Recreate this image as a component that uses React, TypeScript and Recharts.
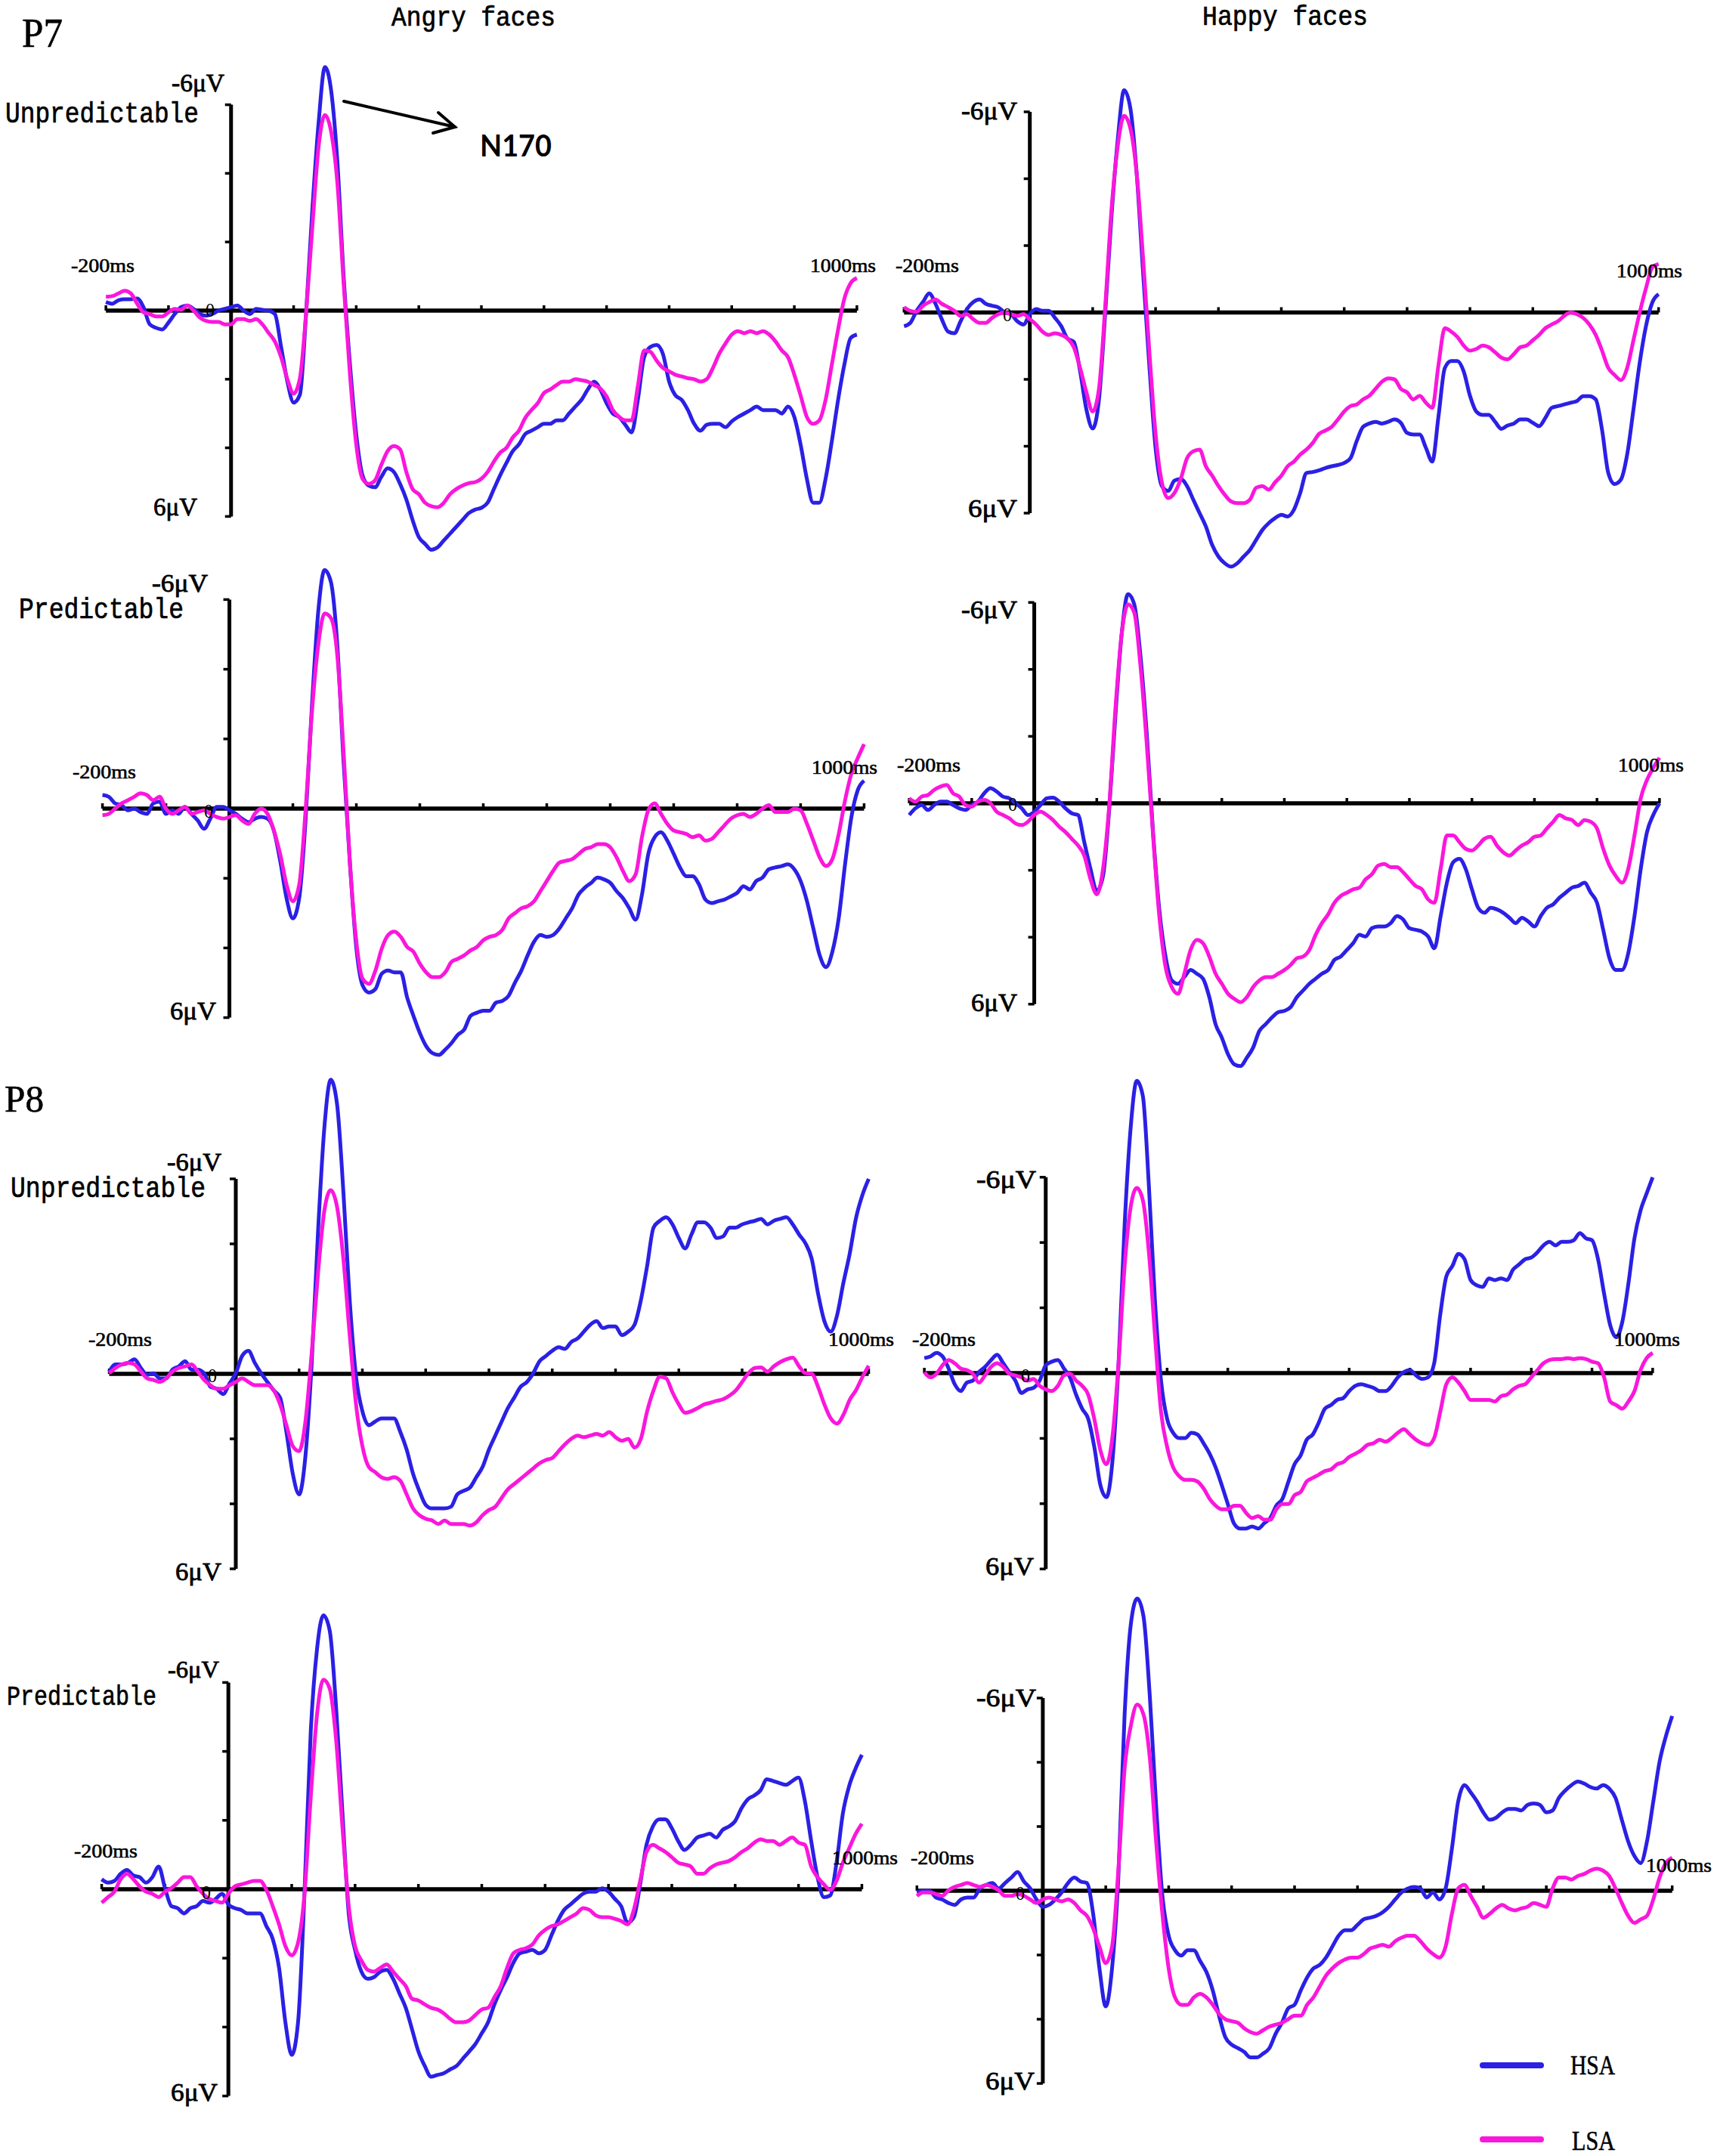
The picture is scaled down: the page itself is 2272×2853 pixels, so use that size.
import React from 'react';
import { LineChart, Line, XAxis, YAxis, ReferenceLine } from 'recharts';

// ---------- data ----------
const timesMs: number[] = Array.from({ length: 121 }, (_, i) => -200 + i * 10);
const xTickMs = [-200, -100, 100, 200, 300, 400, 500, 600, 700, 800, 900, 1000];
const yTickUv = [-6, -4, -2, 2, 4, 6];
const seriesNames = ['HSA', 'LSA'];
const columnTitles = ['Angry faces', 'Happy faces'];
const rowTitles = ['Unpredictable', 'Predictable', 'Unpredictable', 'Predictable'];
const electrodes = ['P7', 'P8'];

// P7 angry unpredictable
const p7AngryUnpHSA = [
  -0.25, -0.2, -0.3, -0.33, -0.33, -0.35, -0.1, 0.4, 0.5, 0.55,
  0.35, 0.1, -0.1, -0.15, -0.05, 0.1, 0.15, 0.1, 0, -0.05,
  -0.1, -0.15, 0, 0.1, -0.05, -0.02, 0, 0.1, 1.06, 2.07,
  2.68, 2.45, 0.05, -2.98, -5.5, -7.1, -6.4, -4.3, -0.96, 1.57,
  3.6, 4.8, 5.1, 5.15, 4.85, 4.6, 4.7, 5.05, 5.5, 6.1,
  6.6, 6.8, 6.97, 6.9, 6.7, 6.5, 6.3, 6.1, 5.9, 5.8,
  5.75, 5.6, 5.2, 4.8, 4.44, 4.1, 3.9, 3.6, 3.5, 3.4,
  3.3, 3.3, 3.2, 3.2, 3.0, 2.8, 2.6, 2.3, 2.07, 2.3,
  2.7, 3.0, 3.1, 3.33, 3.55, 2.6, 1.36, 1.06, 1.0, 1.26,
  2.07, 2.47, 2.6, 2.9, 3.3, 3.5, 3.33, 3.3, 3.3, 3.4,
  3.23, 3.1, 3.0, 2.9, 2.8, 2.9, 2.9, 2.9, 3.0, 2.8,
  3.1, 3.9, 4.9, 5.6, 5.6, 4.9, 3.8, 2.6, 1.57, 0.8,
  0.7,
];
const p7AngryUnpLSA = [
  -0.4, -0.42, -0.5, -0.58, -0.5, -0.2, 0.05, 0.1, 0.17, 0.17,
  0.05, -0.05, -0.02, -0.15, 0, 0.2, 0.3, 0.33, 0.33, 0.4,
  0.4, 0.25, 0.25, 0.3, 0.25, 0.4, 0.65, 0.9, 1.36, 2.0,
  2.42, 1.97, 0.05, -2.47, -4.8, -5.7, -5.2, -3.7, -0.76, 1.87,
  3.9, 4.9, 5.05, 4.95, 4.5, 4.1, 3.95, 4.04, 4.7, 5.2,
  5.35, 5.6, 5.7, 5.73, 5.6, 5.35, 5.2, 5.1, 5.03, 5.0,
  4.9, 4.7, 4.4, 4.14, 4.0, 3.7, 3.5, 3.13, 2.9, 2.7,
  2.4, 2.3, 2.17, 2.07, 2.07, 2.0, 2.03, 2.07, 2.17, 2.27,
  2.5, 2.9, 3.1, 3.2, 3.2, 2.2, 1.16, 1.2, 1.46, 1.67,
  1.77, 1.87, 1.92, 1.97, 2.0, 2.07, 2.0, 1.67, 1.26, 0.96,
  0.7, 0.6, 0.66, 0.6, 0.66, 0.6, 0.7, 0.9, 1.16, 1.36,
  1.87, 2.47, 3.1, 3.3, 3.2, 2.6, 1.57, 0.55, -0.35, -0.8,
  -0.95,
];
// P7 happy unpredictable
const p7HappyUnpHSA = [
  0.41, 0.31, -0.05, -0.31, -0.57, -0.26, 0.2, 0.57, 0.62, 0.26,
  -0.1, -0.31, -0.39, -0.26, -0.2, -0.15, 0, 0.05, 0.26, 0.36,
  0.05, -0.1, -0.05, -0.05, 0.16, 0.41, 0.78, 0.88, 1.76, 2.9,
  3.47, 2.6, 0, -2.9, -5.2, -6.65, -6.1, -4.15, -1.24, 1.56,
  4.05, 5.19, 5.34, 5.03, 4.98, 5.19, 5.6, 6.0, 6.4, 6.95,
  7.3, 7.5, 7.6, 7.5, 7.3, 7.1, 6.8, 6.5, 6.3, 6.15,
  6.05, 6.1, 5.9, 5.4, 4.8, 4.77, 4.72, 4.65, 4.6, 4.56,
  4.5, 4.36, 3.84, 3.42, 3.32, 3.27, 3.32, 3.27, 3.2, 3.3,
  3.6, 3.65, 3.65, 4.05, 4.46, 3.1, 1.66, 1.45, 1.45, 1.76,
  2.49, 2.96, 3.06, 3.06, 3.27, 3.48, 3.38, 3.32, 3.2, 3.2,
  3.3, 3.4, 3.15, 2.85, 2.8, 2.75, 2.7, 2.65, 2.5, 2.5,
  2.6, 3.5, 4.8, 5.13, 5.0, 4.25, 2.9, 1.5, 0.4, -0.3,
  -0.55,
];
const p7HappyUnpLSA = [
  -0.16, -0.05, -0.02, -0.2, -0.31, -0.39, -0.26, -0.16, -0.05, 0.1,
  0.05, 0.2, 0.31, 0.31, 0.16, 0.05, 0, 0.05, 0.1, 0.05,
  0.2, 0.36, 0.57, 0.67, 0.62, 0.67, 0.78, 1.04, 1.66, 2.39,
  2.96, 2.28, -0.2, -3.1, -5.0, -5.88, -5.5, -4.15, -1.66, 1.14,
  3.63, 5.08, 5.55, 5.4, 4.98, 4.36, 4.15, 4.1, 4.6, 4.88,
  5.19, 5.45, 5.65, 5.7, 5.7, 5.6, 5.24, 5.19, 5.3, 5.08,
  4.88, 4.6, 4.46, 4.25, 4.1, 3.9, 3.63, 3.53, 3.42, 3.2,
  2.96, 2.8, 2.75, 2.6, 2.49, 2.28, 2.07, 1.97, 2.0, 2.28,
  2.39, 2.6, 2.49, 2.7, 2.85, 1.56, 0.47, 0.57, 0.73, 0.99,
  1.14, 1.09, 0.99, 1.04, 1.19, 1.35, 1.4, 1.24, 1.04, 0.99,
  0.83, 0.67, 0.47, 0.36, 0.26, 0.1, 0, 0.05, 0.16, 0.36,
  0.67, 1.14, 1.66, 1.87, 2.02, 1.66, 0.83, 0, -0.73, -1.35,
  -1.45,
];
// P7 angry predictable
const p7AngryPreHSA = [
  -0.39, -0.34, -0.15, -0.1, 0.05, 0, 0.1, 0.15, -0.15, -0.2,
  0.15, 0.05, 0.15, -0.05, 0.15, 0.34, 0.58, 0.29, -0.05, -0.05,
  0.05, 0.15, 0.29, 0.39, 0.29, 0.24, 0.29, 0.63, 1.5, 2.57,
  3.15, 2.57, 0.34, -2.95, -5.66, -6.85, -6.5, -4.7, -1.3, 1.6,
  4.0, 5.08, 5.28, 5.18, 4.74, 4.65, 4.7, 4.7, 5.42, 5.95,
  6.44, 6.82, 7.02, 7.07, 6.92, 6.73, 6.49, 6.34, 5.95, 5.86,
  5.8, 5.8, 5.57, 5.52, 5.37, 4.99, 4.65, 4.21, 3.82, 3.63,
  3.68, 3.63, 3.44, 3.15, 2.86, 2.47, 2.27, 2.13, 1.98, 2.03,
  2.13, 2.37, 2.57, 2.86, 3.19, 2.47, 1.3, 0.82, 0.68, 0.92,
  1.3, 1.69, 1.94, 1.94, 2.18, 2.61, 2.71, 2.66, 2.61, 2.52,
  2.42, 2.23, 2.32, 2.08, 1.98, 1.74, 1.69, 1.65, 1.6, 1.74,
  2.08, 2.66, 3.44, 4.21, 4.55, 4.11, 3.15, 1.6, 0.24, -0.53,
  -0.8,
];
const p7AngryPreLSA = [
  0.19, 0.15, 0, -0.15, -0.24, -0.34, -0.44, -0.39, -0.24, -0.34,
  0, 0.15, 0.05, -0.05, 0.15, 0.1, 0.05, 0.15, 0.24, 0.29,
  0.24, 0.19, 0.34, 0.44, 0.15, 0, 0.15, 0.63, 1.31, 2.18,
  2.66, 2.18, 0.05, -2.76, -4.7, -5.6, -5.47, -4.4, -1.6, 1.6,
  3.82, 4.89, 5.03, 4.65, 4.02, 3.63, 3.53, 3.68, 3.97, 4.11,
  4.45, 4.7, 4.84, 4.84, 4.7, 4.4, 4.31, 4.21, 4.07, 3.97,
  3.78, 3.68, 3.63, 3.48, 3.15, 3.0, 2.86, 2.8, 2.66, 2.37,
  2.08, 1.79, 1.55, 1.5, 1.45, 1.31, 1.16, 1.11, 1.02, 1.02,
  1.11, 1.4, 1.79, 2.08, 1.89, 0.82, 0.05, -0.15, 0.15, 0.44,
  0.63, 0.68, 0.73, 0.82, 0.77, 0.92, 0.87, 0.68, 0.48, 0.29,
  0.19, 0.15, 0.24, 0.15, 0, -0.1, 0.1, 0.1, 0.1, 0,
  0.05, 0.44, 0.92, 1.4, 1.65, 1.45, 0.73, -0.24, -1.0, -1.45,
  -1.85,
];
// P7 happy predictable
const p7HappyPreHSA = [
  0.35, 0.15, 0.05, 0.2, 0.05, -0.05, -0.05, 0.05, 0.15, 0.2,
  0.05, -0.05, -0.3, -0.45, -0.35, -0.2, -0.15, 0, 0.15, 0.35,
  0.25, 0.05, -0.15, -0.17, -0.05, 0.15, 0.3, 0.35, 1.16, 1.96,
  2.62, 2.17, 0.15, -2.67, -5.09, -6.25, -5.94, -4.38, -2.06, 0.86,
  3.17, 4.58, 5.29, 5.39, 5.19, 4.98, 5.09, 5.24, 5.79, 6.6,
  7.0, 7.5, 7.8, 7.85, 7.6, 7.3, 6.8, 6.6, 6.4, 6.24,
  6.2, 6.09, 5.79, 5.59, 5.39, 5.24, 5.09, 4.98, 4.68, 4.58,
  4.38, 4.18, 3.93, 3.98, 3.73, 3.68, 3.68, 3.58, 3.37, 3.47,
  3.73, 3.78, 3.83, 3.98, 4.33, 3.37, 2.37, 1.76, 1.66, 1.96,
  2.57, 3.12, 3.27, 3.12, 3.17, 3.27, 3.42, 3.58, 3.42, 3.53,
  3.68, 3.37, 3.12, 3.02, 2.82, 2.67, 2.52, 2.47, 2.37, 2.67,
  2.97, 3.78, 4.63, 4.98, 4.98, 4.48, 3.37, 1.96, 0.86, 0.35,
  0,
];
const p7HappyPreLSA = [
  -0.15, -0.05, -0.2, -0.25, -0.4, -0.5, -0.55, -0.3, -0.2, 0.05,
  0.1, -0.05, -0.1, 0, 0.25, 0.35, 0.45, 0.6, 0.65, 0.55,
  0.35, 0.25, 0.35, 0.5, 0.7, 0.86, 1.06, 1.26, 1.56, 2.27,
  2.72, 1.96, 0.05, -2.87, -5.09, -5.94, -5.69, -4.08, -1.76, 0.96,
  3.37, 4.89, 5.49, 5.69, 5.09, 4.38, 4.08, 4.18, 4.58, 5.09,
  5.39, 5.69, 5.84, 5.94, 5.79, 5.49, 5.29, 5.19, 5.19, 5.09,
  4.98, 4.83, 4.63, 4.58, 4.38, 3.93, 3.58, 3.32, 2.97, 2.77,
  2.67, 2.57, 2.52, 2.27, 2.12, 1.86, 1.81, 1.91, 1.91, 2.06,
  2.27, 2.47, 2.57, 2.87, 2.97, 1.96, 0.96, 0.96, 1.16, 1.36,
  1.41, 1.26, 1.06, 1.0, 1.26, 1.46, 1.56, 1.41, 1.26, 1.16,
  1.0, 0.96, 0.75, 0.55, 0.35, 0.45, 0.5, 0.65, 0.5, 0.55,
  0.75, 1.36, 1.86, 2.17, 2.37, 1.96, 0.96, -0.15, -0.7, -1.06,
  -1.36,
];
// P8 angry unpredictable
const p8AngryUnpHSA = [
  -0.07, -0.29, -0.29, -0.34, -0.45, -0.18, 0.03, -0.02, 0.14, 0.14,
  -0.13, -0.23, -0.39, -0.13, -0.13, -0.02, 0.4, 0.46, 0.62, 0.3,
  -0.02, -0.55, -0.71, -0.34, -0.02, 0.25, 0.51, 0.73, 1.79, 3.07,
  3.71, 2.54, -0.34, -4.39, -7.59, -9.05, -8.3, -5.6, -2.26, 0.08,
  1.15, 1.58, 1.47, 1.37, 1.37, 1.37, 1.79, 2.33, 3.07, 3.6,
  4.03, 4.14, 4.14, 4.14, 4.09, 3.71, 3.6, 3.5, 3.18, 2.86,
  2.33, 1.9, 1.47, 1.05, 0.73, 0.4, 0.25, -0.02, -0.39, -0.55,
  -0.71, -0.82, -0.77, -0.98, -1.09, -1.3, -1.51, -1.62, -1.41, -1.46,
  -1.46, -1.19, -1.3, -1.51, -2.26, -3.33, -4.5, -4.71, -4.82, -4.6,
  -4.18, -3.86, -4.29, -4.66, -4.66, -4.5, -4.18, -4.23, -4.5, -4.5,
  -4.6, -4.66, -4.71, -4.77, -4.6, -4.71, -4.77, -4.82, -4.6, -4.29,
  -4.02, -3.54, -2.47, -1.62, -1.3, -1.8, -2.8, -3.7, -4.8, -5.5,
  -6.0,
];
const p8AngryUnpLSA = [
  -0.02, -0.18, -0.29, -0.34, -0.29, -0.07, 0.14, 0.19, 0.25, 0.14,
  -0.07, -0.18, -0.23, -0.29, -0.07, 0.19, 0.35, 0.46, 0.46, 0.35,
  0.25, 0.14, 0.25, 0.35, 0.35, 0.35, 0.51, 0.94, 1.58, 2.22,
  2.38, 1.47, -0.66, -3.11, -5.03, -5.65, -5.14, -3.54, -1.19, 0.94,
  2.22, 2.86, 3.02, 3.18, 3.23, 3.18, 3.29, 3.71, 4.14, 4.35,
  4.46, 4.51, 4.62, 4.51, 4.62, 4.62, 4.62, 4.67, 4.57, 4.35,
  4.19, 4.09, 3.82, 3.55, 3.39, 3.23, 3.07, 2.91, 2.75, 2.65,
  2.59, 2.38, 2.17, 2.0, 1.9, 1.95, 1.9, 1.85, 1.9, 1.79,
  1.95, 2.06, 2.0, 2.27, 2.0, 1.15, 0.51, 0.09, 0.14, 0.57,
  0.94, 1.2, 1.15, 1.05, 0.94, 0.89, 0.83, 0.78, 0.67, 0.51,
  0.25, -0.02, -0.18, -0.2, -0.07, -0.23, -0.36, -0.45, -0.5, -0.23,
  -0.02, 0, 0.4, 0.94, 1.37, 1.53, 1.26, 0.8, 0.5, 0.1,
  -0.25,
];
// P8 happy unpredictable
const p8HappyUnpHSA = [
  -0.46, -0.51, -0.62, -0.51, -0.14, 0.34, 0.55, 0.29, 0.23, -0.03,
  -0.19, -0.4, -0.56, -0.3, -0.03, 0.23, 0.61, 0.5, 0.45, 0.23,
  -0.24, -0.35, -0.4, -0.14, 0.13, 0.66, 1.09, 1.4, 2.26, 3.43,
  3.8, 2.68, -0.3, -4.55, -7.53, -8.95, -8.49, -5.72, -2.21, 0.23,
  1.4, 1.83, 1.99, 1.99, 1.83, 1.88, 2.15, 2.47, 2.89, 3.43,
  4.01, 4.6, 4.76, 4.76, 4.7, 4.76, 4.6, 4.44, 4.06, 3.85,
  3.32, 2.79, 2.52, 2.04, 1.88, 1.51, 1.09, 0.98, 0.82, 0.77,
  0.55, 0.39, 0.34, 0.39, 0.45, 0.55, 0.55, 0.39, 0.13, -0.03,
  -0.09, 0.07, 0.18, 0.13, -0.3, -1.79, -2.96, -3.28, -3.65, -3.49,
  -2.85, -2.69, -2.64, -2.9, -2.85, -2.9, -2.85, -3.17, -3.33, -3.49,
  -3.54, -3.7, -3.91, -4.02, -3.91, -4.02, -4.02, -4.07, -4.29, -4.13,
  -4.07, -3.49, -2.43, -1.47, -1.1, -1.57, -2.74, -4.13, -4.98, -5.5,
  -6.0,
];
const p8HappyUnpLSA = [
  -0.03, 0.13, 0.02, -0.24, -0.4, -0.3, -0.14, -0.09, 0.02, 0.29,
  0.07, -0.19, -0.3, -0.19, 0.02, 0.07, 0.13, 0.23, 0.18, 0.39,
  0.5, 0.55, 0.39, 0.07, 0.02, 0.23, 0.39, 0.66, 1.4, 2.36,
  2.79, 1.94, -0.3, -3.28, -5.09, -5.67, -5.3, -3.7, -1.15, 1.19,
  2.26, 2.89, 3.16, 3.27, 3.27, 3.32, 3.53, 3.85, 4.06, 4.17,
  4.17, 4.06, 4.06, 4.28, 4.44, 4.38, 4.49, 4.49, 4.17, 4.01,
  4.01, 3.74, 3.64, 3.32, 3.21, 3.11, 3.0, 2.95, 2.79, 2.73,
  2.57, 2.47, 2.36, 2.2, 2.15, 2.04, 2.1, 1.99, 1.83, 1.72,
  1.88, 2.04, 2.15, 2.2, 1.99, 1.19, 0.34, 0.13, 0.29, 0.55,
  0.82, 0.82, 0.82, 0.82, 0.87, 0.71, 0.66, 0.5, 0.39, 0.34,
  0.13, -0.09, -0.3, -0.4, -0.43, -0.43, -0.46, -0.43, -0.46, -0.43,
  -0.35, -0.3, 0.13, 0.87, 0.98, 1.09, 0.87, 0.55, -0.09, -0.46,
  -0.62,
];
// P8 angry predictable
const p8AngryPreHSA = [
  -0.29, -0.19, -0.24, -0.45, -0.56, -0.4, -0.35, -0.19, -0.35, -0.66,
  -0.03, 0.49, 0.55, 0.7, 0.55, 0.49, 0.34, 0.39, 0.28, 0.13,
  0.44, 0.55, 0.6, 0.7, 0.7, 0.7, 1.07, 1.44, 2.28, 3.86,
  4.81, 3.86, 0.18, -4.56, -6.98, -7.95, -7.5, -5.29, -2.24, 0.7,
  1.76, 2.39, 2.6, 2.55, 2.39, 2.34, 2.6, 3.02, 3.44, 4.07,
  4.71, 5.13, 5.44, 5.39, 5.34, 5.23, 5.13, 4.92, 4.71, 4.49,
  4.18, 3.86, 3.34, 2.92, 2.55, 2.13, 1.86, 1.81, 1.76, 1.86,
  1.76, 1.34, 0.92, 0.6, 0.44, 0.28, 0.13, 0.07, 0.07, -0.03,
  0.07, 0.28, 0.49, 0.97, 0.81, -0.14, -1.29, -1.82, -2.03, -2.03,
  -1.77, -1.4, -1.14, -1.29, -1.5, -1.56, -1.61, -1.5, -1.72, -1.82,
  -1.98, -2.35, -2.61, -2.72, -2.87, -3.19, -3.14, -3.08, -3.03, -3.14,
  -3.24, -2.56, -1.4, -0.35, 0.23, 0.18, -0.77, -2.2, -3.0, -3.5,
  -3.9,
];
const p8AngryPreLSA = [
  0.39, 0.23, 0.07, -0.29, -0.45, -0.29, -0.08, 0.07, 0.13, 0.23,
  0.07, -0.03, -0.19, -0.35, -0.35, -0.08, 0.13, 0.28, 0.34, 0.39,
  0.13, -0.08, -0.14, -0.19, -0.24, -0.24, 0.02, 0.49, 1.02, 1.65,
  1.92, 1.55, 0.18, -2.66, -5.08, -6.08, -5.82, -4.35, -1.82, 0.49,
  1.65, 2.07, 2.34, 2.39, 2.28, 2.18, 2.39, 2.6, 2.81, 3.18,
  3.23, 3.34, 3.44, 3.49, 3.6, 3.76, 3.86, 3.86, 3.81, 3.65,
  3.49, 3.44, 3.13, 2.81, 2.28, 1.86, 1.76, 1.71, 1.6, 1.34,
  1.18, 1.07, 1.02, 0.92, 0.81, 0.7, 0.55, 0.6, 0.76, 0.81,
  0.81, 0.86, 0.92, 1.02, 0.6, -0.24, -1.08, -1.29, -1.19, -1.08,
  -0.93, -0.77, -0.72, -0.66, -0.45, -0.45, -0.61, -0.72, -0.77, -0.82,
  -0.93, -1.08, -1.19, -1.35, -1.45, -1.4, -1.4, -1.29, -1.4, -1.5,
  -1.35, -1.29, -0.66, -0.35, -0.14, 0.02, -0.24, -0.77, -1.19, -1.6,
  -1.9,
];
// P8 happy predictable
const p8HappyPreHSA = [
  0.05, 0, 0, 0.21, 0.27, 0.38, 0.44, 0.27, 0.21, 0.21,
  -0.07, -0.18, -0.24, -0.07, -0.24, -0.41, -0.58, -0.29, -0.07, 0.27,
  0.5, 0.44, 0.27, 0.05, -0.24, -0.41, -0.29, -0.24, 0.72, 2.42,
  3.6, 2.42, -0.41, -5.49, -8.32, -9.1, -8.54, -6.06, -2.67, 0.16,
  1.4, 1.85, 2.02, 1.85, 1.85, 2.19, 2.53, 3.1, 3.89, 4.56,
  4.79, 4.9, 5.02, 5.19, 5.19, 5.07, 4.9, 4.45, 4.11, 3.66,
  3.55, 3.1, 2.7, 2.42, 2.31, 2.08, 1.74, 1.4, 1.23, 1.23,
  1.06, 0.89, 0.84, 0.78, 0.67, 0.5, 0.27, 0.05, -0.07, -0.12,
  -0.07, 0.21, 0.05, 0.27, -0.07, -1.31, -2.78, -3.29, -3.06, -2.78,
  -2.44, -2.21, -2.27, -2.44, -2.55, -2.55, -2.5, -2.67, -2.72, -2.67,
  -2.44, -2.5, -2.89, -3.12, -3.29, -3.4, -3.34, -3.23, -3.18, -3.29,
  -3.18, -2.89, -2.21, -1.54, -1.08, -0.86, -1.54, -2.78, -4.02, -4.81,
  -5.44,
];
const p8HappyPreLSA = [
  0.16, 0.05, 0.05, 0.1, 0.16, -0.01, -0.12, -0.18, -0.24, -0.18,
  -0.12, -0.18, -0.12, -0.01, 0.16, 0.16, 0.1, 0.16, 0.27, 0.38,
  0.27, 0.21, 0.27, 0.33, 0.27, 0.38, 0.61, 0.78, 1.17, 1.74,
  2.25, 1.74, -0.63, -3.8, -5.15, -5.8, -5.49, -4.14, -1.54, 0.72,
  2.42, 3.32, 3.55, 3.55, 3.32, 3.21, 3.32, 3.55, 3.83, 4.0,
  4.06, 4.11, 4.28, 4.4, 4.45, 4.34, 4.23, 4.17, 4.11, 4.0,
  3.89, 3.89, 3.55, 3.32, 2.98, 2.64, 2.42, 2.25, 2.14, 2.08,
  2.08, 1.97, 1.8, 1.74, 1.68, 1.74, 1.57, 1.46, 1.4, 1.4,
  1.57, 1.8, 1.97, 2.08, 1.74, 0.72, -0.07, -0.18, 0.16, 0.5,
  0.84, 0.72, 0.55, 0.44, 0.55, 0.61, 0.55, 0.5, 0.38, 0.44,
  0.5, -0.07, -0.41, -0.41, -0.35, -0.46, -0.52, -0.63, -0.69, -0.63,
  -0.46, -0.07, 0.38, 0.78, 1.0, 0.89, 0.78, 0.27, -0.41, -0.86,
  -1.03,
];

// ---------- layout / style ----------
const HSA_COLOR = '#2B20E4';
const LSA_COLOR = '#FA17DC';
const SERIF = '"Liberation Serif", "Times New Roman", serif';
const MONO = '"Liberation Mono", "Courier New", monospace';

type PanelCfg = {
  hsa: number[]; lsa: number[];
  x0: number; pxMs: number; y0: number; pxUv: number;
  top6: [number, number, number]; bot6: [number, number, number];
  ms200: [number, number]; ms1000: [number, number]; zero: [number, number];
};

const panels: PanelCfg[] = [
  { hsa: p7AngryUnpHSA, lsa: p7AngryUnpLSA, x0: 306, pxMs: 0.828, y0: 411, pxUv: 45.4,
    top6: [227, 121, 70], bot6: [203, 682, 58], ms200: [94, 360], ms1000: [1072, 360], zero: [278, 419] },
  { hsa: p7HappyUnpHSA, lsa: p7HappyUnpLSA, x0: 1363, pxMs: 0.832, y0: 413, pxUv: 44.25,
    top6: [1272, 158, 74], bot6: [1281, 684, 65], ms200: [1185, 360], ms1000: [2139, 367], zero: [1333, 425] },
  { hsa: p7AngryPreHSA, lsa: p7AngryPreLSA, x0: 304, pxMs: 0.84, y0: 1070, pxUv: 46.1,
    top6: [201, 783, 74], bot6: [225, 1349, 61], ms200: [96, 1030], ms1000: [1074, 1024], zero: [276, 1082] },
  { hsa: p7HappyPreHSA, lsa: p7HappyPreLSA, x0: 1368, pxMs: 0.827, y0: 1063, pxUv: 44.3,
    top6: [1272, 818, 74], bot6: [1285, 1338, 61], ms200: [1187, 1021], ms1000: [2141, 1021], zero: [1340, 1073] },
  { hsa: p8AngryUnpHSA, lsa: p8AngryUnpLSA, x0: 312, pxMs: 0.8375, y0: 1818, pxUv: 43,
    top6: [221, 1549, 72], bot6: [232, 2091, 61], ms200: [117, 1781], ms1000: [1096, 1781], zero: [281, 1829] },
  { hsa: p8HappyUnpHSA, lsa: p8HappyUnpLSA, x0: 1384, pxMs: 0.803, y0: 1817, pxUv: 43.2,
    top6: [1292, 1572, 79], bot6: [1304, 2084, 64], ms200: [1207, 1781], ms1000: [2136, 1781], zero: [1357, 1829] },
  { hsa: p8AngryPreHSA, lsa: p8AngryPreLSA, x0: 302, pxMs: 0.838, y0: 2500, pxUv: 45.6,
    top6: [222, 2220, 68], bot6: [226, 2780, 62], ms200: [98, 2458], ms1000: [1101, 2467], zero: [273, 2513] },
  { hsa: p8HappyPreHSA, lsa: p8HappyPreLSA, x0: 1380, pxMs: 0.833, y0: 2502, pxUv: 42.5,
    top6: [1292, 2258, 79], bot6: [1304, 2765, 65], ms200: [1205, 2467], ms1000: [2178, 2477], zero: [1350, 2514] },
];

const rowLabelPos: [number, number, number][] = [
  [7, 162, 256], [25, 818, 218], [14, 1584, 258], [9, 2256, 198],
];

const XMIN = -240;
const XMAX = 1040;
const YLIM = 10;

function Panel({ cfg }: { cfg: PanelCfg }) {
  const width = Math.round((XMAX - XMIN) * cfg.pxMs);
  const height = Math.round(2 * YLIM * cfg.pxUv);
  const left = cfg.x0 + XMIN * cfg.pxMs;
  const top = cfg.y0 - YLIM * cfg.pxUv;
  const data = timesMs.map((t, i) => ({ t, hsa: cfg.hsa[i], lsa: cfg.lsa[i] }));
  const tickUp = 7 / cfg.pxUv;
  const tickLeft = 8 / cfg.pxMs;
  return (
    <div style={{ position: 'absolute', left, top, width, height }}>
      <LineChart width={width} height={height} data={data} margin={{ top: 0, right: 0, bottom: 0, left: 0 }}>
        <XAxis type="number" dataKey="t" domain={[XMIN, XMAX]} hide allowDataOverflow />
        <YAxis type="number" domain={[-YLIM, YLIM]} reversed hide allowDataOverflow />
        <ReferenceLine segment={[{ x: -200, y: 0 }, { x: 1000, y: 0 }]} stroke="#000" strokeWidth={5.5} />
        <ReferenceLine segment={[{ x: 0, y: -6 }, { x: 0, y: 6 }]} stroke="#000" strokeWidth={5} />
        {xTickMs.map((t) => (
          <ReferenceLine key={'xt' + t} segment={[{ x: t, y: 0 }, { x: t, y: -tickUp }]} stroke="#000" strokeWidth={3.5} />
        ))}
        {yTickUv.map((v) => (
          <ReferenceLine key={'yt' + v} segment={[{ x: 0, y: v }, { x: -tickLeft, y: v }]} stroke="#000" strokeWidth={3.5} />
        ))}
        <Line type="monotone" dataKey="hsa" name={seriesNames[0]} stroke={HSA_COLOR} strokeWidth={5}
          dot={false} isAnimationActive={false} strokeLinejoin="round" />
        <Line type="monotone" dataKey="lsa" name={seriesNames[1]} stroke={LSA_COLOR} strokeWidth={5}
          dot={false} isAnimationActive={false} strokeLinejoin="round" />
      </LineChart>
    </div>
  );
}

function T({ x, y, w, size, family, children, weight, anchor, thick }: any) {
  return (
    <text x={x} y={y} fontSize={size} fontFamily={family} fontWeight={weight || 'normal'}
      textLength={w} lengthAdjust="spacingAndGlyphs" textAnchor={anchor || 'start'} fill="#000"
      stroke={thick ? '#000' : 'none'} strokeWidth={thick || 0}>
      {children}
    </text>
  );
}

export default function App() {
  return (
    <div style={{ position: 'absolute', left: 0, top: 0, width: 2272, height: 2853, background: '#fff' }}>
      {panels.map((p, i) => <Panel key={i} cfg={p} />)}
      <svg width={2272} height={2853} style={{ position: 'absolute', left: 0, top: 0, pointerEvents: 'none' }}>
        {/* electrodes */}
        <T x={29} y={62} w={54} size={54} family={SERIF} thick={0.6}>{electrodes[0]}</T>
        <T x={6} y={1471} w={52} size={50} family={SERIF} thick={0.6}>{electrodes[1]}</T>
        {/* column titles and row labels */}
        <T x={518} y={34} w={217} size={37} family={MONO} thick={0.7}>{columnTitles[0]}</T>
        <T x={1591} y={33} w={219} size={37} family={MONO} thick={0.7}>{columnTitles[1]}</T>
        {rowLabelPos.map((r, i) => (
          <T key={i} x={r[0]} y={r[1]} w={r[2]} size={i === 3 ? 36 : 38} family={MONO} thick={0.7}>{rowTitles[i]}</T>
        ))}
        {/* panel tick labels */}
        {panels.map((p, i) => (
          <g key={i}>
            <T x={p.top6[0]} y={p.top6[1]} w={p.top6[2]} size={i === 6 ? 31 : 33} family={SERIF} thick={0.8}>-6μV</T>
            <T x={p.bot6[0]} y={p.bot6[1]} w={p.bot6[2]} size={34} family={SERIF} thick={0.8}>6μV</T>
            <T x={p.ms200[0]} y={p.ms200[1]} w={84} size={26} family={SERIF} thick={0.6}>-200ms</T>
            <T x={p.ms1000[0]} y={p.ms1000[1]} w={87} size={26} family={SERIF} thick={0.6}>1000ms</T>
            <T x={p.zero[0]} y={p.zero[1]} w={12} size={26} family={SERIF} anchor="middle">0</T>
          </g>
        ))}
        {/* N170 annotation */}
        <g stroke="#000" strokeWidth={4} fill="none" strokeLinecap="round">
          <line x1={455} y1={134} x2={602} y2={168} />
          <polyline points="580,149 602,168 573,176" />
        </g>
        <T x={635} y={207} w={95} size={41} family='Lato, "Open Sans", sans-serif' weight={700}>N170</T>
        {/* legend */}
        <line x1={1962} y1={2733} x2={2039} y2={2733} stroke={HSA_COLOR} strokeWidth={8} strokeLinecap="round" />
        <line x1={1962} y1={2831} x2={2039} y2={2831} stroke={LSA_COLOR} strokeWidth={8} strokeLinecap="round" />
        <T x={2078} y={2745} w={59} size={36} family={SERIF} thick={0.6}>{seriesNames[0]}</T>
        <T x={2080} y={2845} w={57} size={36} family={SERIF} thick={0.6}>{seriesNames[1]}</T>
      </svg>
    </div>
  );
}
